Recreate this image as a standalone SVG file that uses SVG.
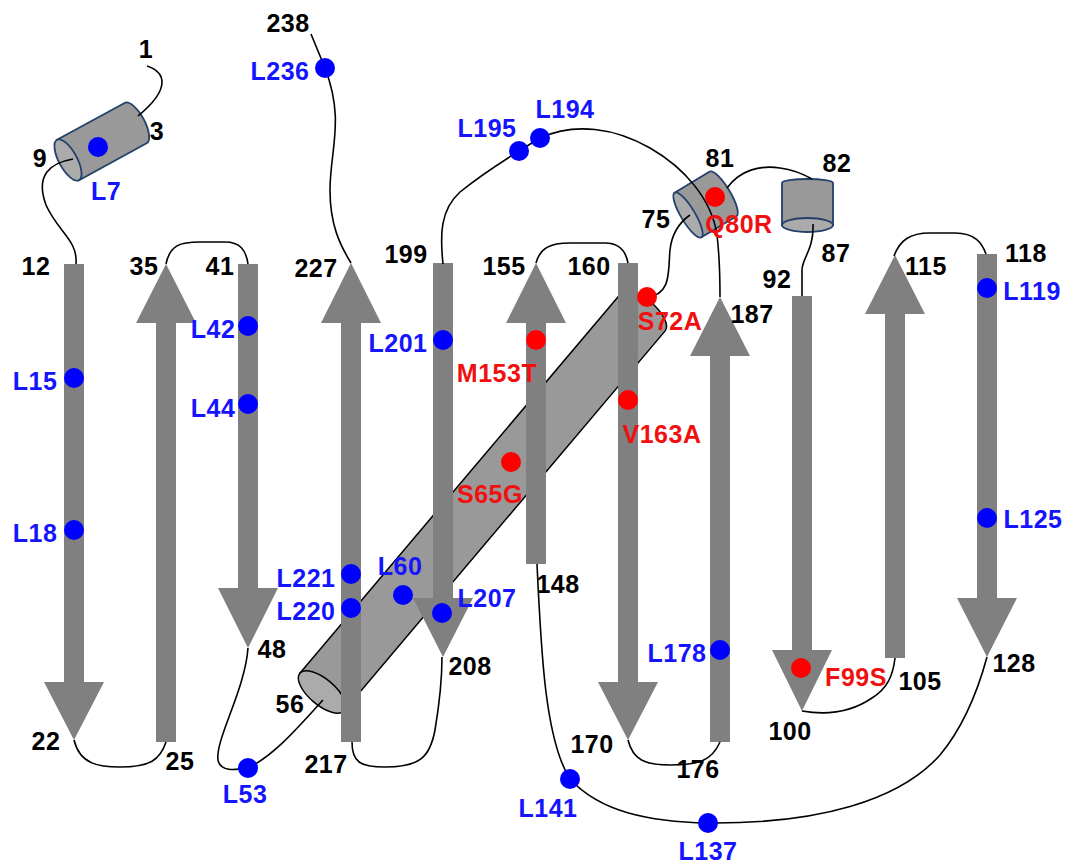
<svg xmlns="http://www.w3.org/2000/svg" width="1075" height="865" viewBox="0 0 1075 865">
<style>
.st{fill:#808080}
.hx{fill:#999999;stroke:#000;stroke-width:1.5}
.hxe{fill:#ababab;stroke:#000;stroke-width:1.5}
.sh{fill:#999999;stroke:#22406a;stroke-width:1.8}
.she{fill:#ababab;stroke:#22406a;stroke-width:1.8}
.ln{fill:none;stroke:#000;stroke-width:1.6}
.b{fill:#0000ff}
.r{fill:#ff0000}
text{font-family:"Liberation Sans",Arial,sans-serif;font-weight:bold;font-size:25px;letter-spacing:0.5px;text-anchor:middle}
.k{fill:#000}
.tb{fill:#1414ff}
.tr{fill:#f01010}
</style>
<rect width="1075" height="865" fill="#fff"/>
<g id="helix56">
<g transform="translate(322,692) rotate(-49.8)">
<path class="hx" d="M0,-29 L497,-29 A13,29 0 0 1 497,29 L0,29 Z"/>
<ellipse class="hxe" cx="0" cy="0" rx="13" ry="29"/>
</g>
</g>
<g id="helix3">
<g transform="translate(68,160) rotate(-28.6)">
<path class="sh" d="M0,-23 L77,-23 A9,23 0 0 1 77,23 L0,23 Z"/>
<ellipse class="she" cx="0" cy="0" rx="9" ry="23"/>
</g>
</g>
<g id="helix75">
<g transform="translate(688,215) rotate(-31)">
<path class="sh" d="M0,-26 L41,-26 A7,26 0 0 1 41,26 L0,26 Z"/>
<ellipse class="she" cx="0" cy="0" rx="7" ry="26"/>
</g>
</g>
<g id="helix82">
<path class="sh" d="M782,183 A25.5,4 0 0 1 833,183 L833,225 L782,225 Z"/>
<ellipse class="she" cx="807.5" cy="225" rx="25.5" ry="7"/>
</g>
<g id="s12"><polygon class="st" points="64,264 84,264 84,682 104,682 74,740 44,682 64,682"/></g>
<g id="s25"><polygon class="st" points="166,264 196,323 176,323 176,742 156,742 156,323 136,323"/></g>
<g id="s41"><polygon class="st" points="238,264 258,264 258,588 278,588 248,648 218,588 238,588"/></g>
<g id="s217"><polygon class="st" points="351,263 381,323 361,323 361,742 341,742 341,323 321,323"/></g>
<g id="s199"><polygon class="st" points="433,263 453,263 453,598 473,598 443,657 413,598 433,598"/></g>
<g id="s148"><polygon class="st" points="536,263 566,323 546,323 546,564 526,564 526,323 506,323"/></g>
<g id="s160"><polygon class="st" points="618,263 638,263 638,682 658,682 628,740 598,682 618,682"/></g>
<g id="s176"><polygon class="st" points="720,297 750,356 730,356 730,742 710,742 710,356 690,356"/></g>
<g id="s92"><polygon class="st" points="792,296 812,296 812,650 832,650 802,711 772,650 792,650"/></g>
<g id="s105"><polygon class="st" points="895,255 925,314 905,314 905,658 885,658 885,314 865,314"/></g>
<g id="s118"><polygon class="st" points="977,254 997,254 997,598 1017,598 987,657 957,598 977,598"/></g>
<g id="connectors">
<path class="ln" d="M147,66 C165,72 172,88 138,116"/>
<path class="ln" d="M73,159 C50,163 35,175 46,205 C58,232 78,240 76,264"/>
<path class="ln" d="M74,740 C80,765 100,767 120,767 C150,767 160,760 166,742"/>
<path class="ln" d="M166,264 C170,245 180,242 200,242 L225,242 C240,242 246,250 248,264"/>
<path class="ln" d="M248,648 C245,690 215,740 218,760 C220,772 235,770 248,768 C275,755 300,725 323,700"/>
<path class="ln" d="M352,742 C352,762 360,767 385,767 C420,767 430,757 435,730 C440,700 442,670 442,657"/>
<path class="ln" d="M351,263 C340,245 330,225 330,190 C330,150 345,120 325,68 L311,34"/>
<path class="ln" d="M443,264 C440,235 440,210 460,192 C485,172 505,160 519,151 L540,138"/>
<path class="ln" d="M540,138 C575,122 615,128 650,148 C685,168 712,200 717,235 C720,260 720,280 720,297"/>
<path class="ln" d="M647,297 C672,295 668,270 670,250 C672,232 680,222 690,215"/>
<path class="ln" d="M727,188 C740,170 760,165 780,168 C795,170 805,175 812,179"/>
<path class="ln" d="M813,224 C814,250 802,258 802,270 L802,296"/>
<path class="ln" d="M536,263 C540,248 550,243 570,243 L605,243 C620,243 626,252 628,263"/>
<path class="ln" d="M537,564 C541,650 545,740 570,779 C600,812 650,822 708,823 C820,824 900,800 940,755 C965,725 978,690 987,657"/>
<path class="ln" d="M628,740 C633,760 645,765 670,765 C700,765 712,760 720,742"/>
<path class="ln" d="M802,711 C825,715 850,713 872,698 C888,688 893,675 895,658"/>
<path class="ln" d="M894,256 C900,240 910,233 930,233 L955,233 C975,233 982,243 986,254"/>
</g>
<g id="dots">
<circle class="b" cx="98" cy="147" r="10"/>
<circle class="b" cx="325" cy="68" r="10"/>
<circle class="b" cx="519" cy="151" r="10"/>
<circle class="b" cx="540" cy="138" r="10"/>
<circle class="b" cx="443" cy="340" r="10"/>
<circle class="b" cx="74" cy="378" r="10"/>
<circle class="b" cx="74" cy="530" r="10"/>
<circle class="b" cx="248" cy="326" r="10"/>
<circle class="b" cx="248" cy="404" r="10"/>
<circle class="b" cx="351" cy="574" r="10"/>
<circle class="b" cx="351" cy="608" r="10"/>
<circle class="b" cx="403" cy="595" r="10"/>
<circle class="b" cx="442" cy="613" r="10"/>
<circle class="b" cx="248" cy="768" r="10"/>
<circle class="b" cx="720" cy="650" r="10"/>
<circle class="b" cx="570" cy="779" r="10"/>
<circle class="b" cx="708" cy="823" r="10"/>
<circle class="b" cx="987" cy="288" r="10"/>
<circle class="b" cx="987" cy="518" r="10"/>
<circle class="r" cx="715" cy="197" r="10"/>
<circle class="r" cx="647" cy="297" r="10"/>
<circle class="r" cx="536" cy="340" r="10"/>
<circle class="r" cx="628" cy="400" r="10"/>
<circle class="r" cx="511" cy="462" r="10"/>
<circle class="r" cx="801" cy="668" r="10"/>
</g>
<g id="labels">
<text class="k" x="288" y="32">238</text>
<text class="k" x="146" y="58">1</text>
<text class="k" x="157" y="140">3</text>
<text class="k" x="40" y="167">9</text>
<text class="k" x="36" y="275">12</text>
<text class="k" x="144" y="275">35</text>
<text class="k" x="220" y="275">41</text>
<text class="k" x="316" y="277">227</text>
<text class="k" x="406" y="263">199</text>
<text class="k" x="504" y="275">155</text>
<text class="k" x="589" y="275">160</text>
<text class="k" x="656" y="228">75</text>
<text class="k" x="720" y="167">81</text>
<text class="k" x="837" y="172">82</text>
<text class="k" x="836" y="262">87</text>
<text class="k" x="777" y="288">92</text>
<text class="k" x="752" y="323">187</text>
<text class="k" x="926" y="275">115</text>
<text class="k" x="1026" y="262">118</text>
<text class="k" x="558" y="593">148</text>
<text class="k" x="272" y="658">48</text>
<text class="k" x="470" y="675">208</text>
<text class="k" x="920" y="690">105</text>
<text class="k" x="1014" y="672">128</text>
<text class="k" x="46" y="750">22</text>
<text class="k" x="180" y="770">25</text>
<text class="k" x="290" y="713">56</text>
<text class="k" x="326" y="773">217</text>
<text class="k" x="592" y="753">170</text>
<text class="k" x="698" y="778">176</text>
<text class="k" x="790" y="740">100</text>
<text class="tb" x="280" y="80">L236</text>
<text class="tb" x="106" y="200">L7</text>
<text class="tb" x="487" y="137">L195</text>
<text class="tb" x="565" y="118">L194</text>
<text class="tb" x="1032" y="300">L119</text>
<text class="tb" x="35" y="390">L15</text>
<text class="tb" x="35" y="542">L18</text>
<text class="tb" x="213" y="338">L42</text>
<text class="tb" x="213" y="417">L44</text>
<text class="tb" x="398" y="352">L201</text>
<text class="tb" x="1033" y="528">L125</text>
<text class="tb" x="306" y="587">L221</text>
<text class="tb" x="306" y="620">L220</text>
<text class="tb" x="400" y="575">L60</text>
<text class="tb" x="487" y="607">L207</text>
<text class="tb" x="677" y="662">L178</text>
<text class="tb" x="245" y="803">L53</text>
<text class="tb" x="548" y="817">L141</text>
<text class="tb" x="708" y="860">L137</text>
<text class="tr" x="739" y="233">Q80R</text>
<text class="tr" x="497" y="382">M153T</text>
<text class="tr" x="670" y="330">S72A</text>
<text class="tr" x="662" y="443">V163A</text>
<text class="tr" x="490" y="503">S65G</text>
<text class="tr" x="856" y="686">F99S</text>
</g>
</svg>
